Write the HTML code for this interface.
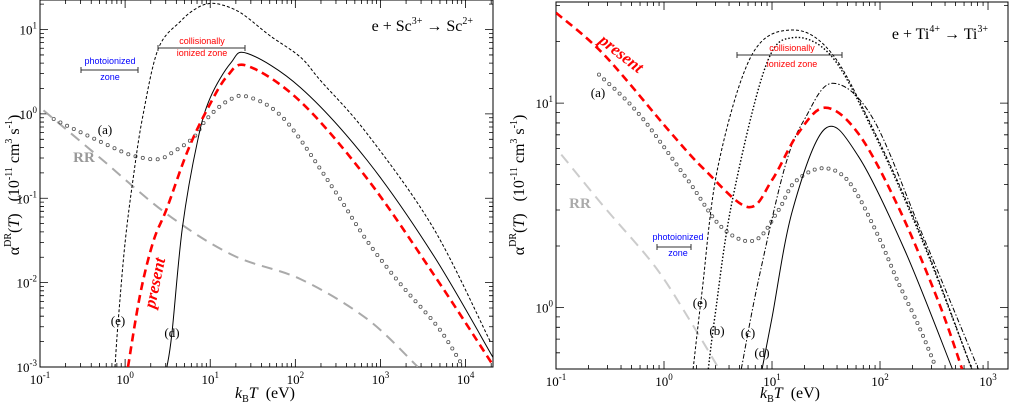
<!DOCTYPE html>
<html><head><meta charset="utf-8"><style>
body{margin:0;background:#fff;}
svg{display:block;font-family:"Liberation Serif",serif;}
</style></head><body>
<svg id="fig" width="1009" height="404" viewBox="0 0 1009 404" xmlns="http://www.w3.org/2000/svg"></svg>
<script>
// ---------- Data: left panel (e + Sc3+ -> Sc2+), kT in eV, alpha in 1e-11 cm^3/s ----------
const L_e_kT   = [0.76,0.83,1.0,1.24,1.6,2.45,4.5,7,10,14,20,27.5,50,115,200,700,4200,19500];
const L_e_val  = [0.001,0.0035,0.03,0.17,0.9,5.9,12.6,18,20.4,19.5,17,13.8,8.5,4.7,2.45,0.58,0.044,0.002];
const L_d_kT   = [3.1,3.55,4.7,7.1,10,17.4,27.5,115,700,4200,21000];
const L_d_val  = [0.001,0.0025,0.044,0.48,1.55,4.0,5.2,2.05,0.28,0.021,0.0013];
const L_p_kT   = [1.08,1.5,2.15,3.1,5.4,9.1,15.8,27.5,115,700,4200,21000];
const L_p_val  = [0.001,0.0072,0.031,0.076,0.36,1.1,2.8,3.7,1.4,0.17,0.0126,0.00105];
const L_a_kT   = [0.145,0.21,0.72,1.23,2.4,3.6,6.3,9.1,15.8,27.5,74,280,700,1740,4700,8700];
const L_a_val  = [0.87,0.72,0.4,0.32,0.29,0.35,0.52,0.87,1.41,1.6,0.87,0.13,0.031,0.0095,0.003,0.00115];
const L_rr_kT  = [0.11,0.51,3.1,18.6,115,700,2750];
const L_rr_val = [1.1,0.3,0.065,0.021,0.011,0.0037,0.001];
// ---------- Data: right panel (e + Ti4+ -> Ti3+) ----------
const R_p_kT   = [0.1,0.28,1.17,2.4,6.0,10,17.4,31,63,148,347,575];
const R_p_val  = [27.7,17.2,7.1,4.7,3.1,4.2,7.1,9.5,7.1,3.1,1.07,0.5];
const R_a_kT   = [0.25,0.58,1.66,3.47,6.9,11.5,16.2,28.8,50,89,148,224,324];
const R_a_val  = [13.8,8.9,4.2,2.45,2.13,3.0,4.1,4.8,4.2,2.45,1.32,0.83,0.52];
const R_d_kT   = [8.1,10,15.5,31,63,170,468];
const R_d_val  = [0.5,0.89,3.0,7.5,5.5,1.9,0.5];
const R_c_kT   = [5.2,7.4,13.2,20.4,36.3,85,245,813];
const R_c_val  = [0.5,1.32,4.9,8.5,12.5,8.5,2.3,0.5];
const R_e_kT   = [1.86,2.24,3.16,6.5,15.5,35.5,85,245,708];
const R_e_val  = [0.5,1.17,4.9,17.2,22.8,17.6,7.6,2.2,0.5];
const R_b_kT   = [2.57,2.95,4.27,8.7,15.5,35.5,85,245,708];
const R_b_val  = [0.5,0.89,3.3,15.1,20.9,17.0,7.4,2.14,0.5];
const R_rr_kT  = [0.112,0.28,0.83,1.82,3.16];
const R_rr_val = [5.6,3.1,1.58,0.83,0.51];

const NS="http://www.w3.org/2000/svg";
const svg=document.getElementById('fig');
function mk(tag,attrs,parent){const e=document.createElementNS(NS,tag);for(const k in attrs)e.setAttribute(k,attrs[k]);(parent||svg).appendChild(e);return e;}

const panels=[
 {id:'left',x0:40,x1:493,y0:0,y1:367,lx0:-1,lx1:Math.log10(2.1e4),ly0:-3,ly1:1.35,xt:[-1,0,1,2,3,4],yt:[-3,-2,-1,0,1]},
 {id:'right',x0:556,x1:1008,y0:2,y1:369,lx0:-1,lx1:3.185,ly0:Math.log10(0.5),ly1:1.495,xt:[-1,0,1,2,3],yt:[0,1]}
];
function sx(p,v){return p.x0+(Math.log10(v)-p.lx0)/(p.lx1-p.lx0)*(p.x1-p.x0);}
function sy(p,v){return p.y1-(Math.log10(v)-p.ly0)/(p.ly1-p.ly0)*(p.y1-p.y0);}
function smoothPath(pts){
 let d='M'+pts[0][0].toFixed(1)+','+pts[0][1].toFixed(1);
 for(let i=0;i<pts.length-1;i++){
  const p0=pts[i-1]||pts[i],p1=pts[i],p2=pts[i+1],p3=pts[i+2]||p2;
  const c1=[p1[0]+(p2[0]-p0[0])/6,p1[1]+(p2[1]-p0[1])/6],c2=[p2[0]-(p3[0]-p1[0])/6,p2[1]-(p3[1]-p1[1])/6];
  d+=' C'+c1.map(v=>v.toFixed(1))+' '+c2.map(v=>v.toFixed(1))+' '+p2[0].toFixed(1)+','+p2[1].toFixed(1);
 }
 return d;
}
function supLabel(x,y,exp,anchor,parent,name){
 const t=mk('text',{x:x,y:y,'font-size':13,'text-anchor':anchor,fill:'#000'},parent);
 
 
 t.appendChild(document.createTextNode('10'));
 const s=mk('tspan',{'font-size':9,dy:-6},t);s.textContent=exp;
 return t;
}
function axes(p){
 const g=mk('g',{});
 
 
 const fr=mk('rect',{x:p.x0,y:p.y0,width:p.x1-p.x0,height:p.y1-p.y0,fill:'none',stroke:'#000','stroke-width':1},g);
 
 
 let d='';
 for(let e=Math.floor(p.lx0);e<=Math.ceil(p.lx1);e++)for(let m=1;m<10;m++){
  const lv=e+Math.log10(m);if(lv<p.lx0-1e-9||lv>p.lx1+1e-9)continue;
  const x=p.x0+(lv-p.lx0)/(p.lx1-p.lx0)*(p.x1-p.x0),L=m==1?8:4;
  d+=`M${x},${p.y1}v${-L}M${x},${p.y0}v${L}`;
 }
 for(let e=Math.floor(p.ly0);e<=Math.ceil(p.ly1);e++)for(let m=1;m<10;m++){
  const lv=e+Math.log10(m);if(lv<p.ly0-1e-9||lv>p.ly1+1e-9)continue;
  const y=p.y1-(lv-p.ly0)/(p.ly1-p.ly0)*(p.y1-p.y0),L=m==1?8:4;
  d+=`M${p.x0},${y}h${L}M${p.x1},${y}h${-L}`;
 }
 const tk=mk('path',{d:d,stroke:'#000','stroke-width':0.8,fill:'none'},g);
 
 
 p.xt.forEach(e=>supLabel(sx(p,Math.pow(10,e)),p.y1+17,e,'middle',g,p.id+'-x-tick-label'));
 p.yt.forEach(e=>supLabel(p.x0-3,sy(p,Math.pow(10,e))+5,e,'end',g,p.id+'-y-tick-label'));
}
function curve(p,kT,val,style,name){
 const pts=kT.map((k,i)=>[sx(p,k),sy(p,val[i])]);
 const path=mk('path',Object.assign({d:smoothPath(pts),fill:'none','clip-path':`url(#clip-${p.id})`},style));
 
 
 return path;
}
function circles(p,kT,val,name,step){
 const path=curve(p,kT,val,{stroke:'none'},name+'-path');
 const g=mk('g',{fill:'none',stroke:'#555','stroke-width':0.8,'clip-path':`url(#clip-${p.id})`});
 
 
 const len=path.getTotalLength();
 for(let s=0;s<=len;s+=step){const q=path.getPointAtLength(s);
  const c=mk('circle',{cx:q.x.toFixed(1),cy:q.y.toFixed(1),r:1.6},g);
  
  }
}
const defs=mk('defs',{});
panels.forEach(p=>{const c=mk('clipPath',{id:'clip-'+p.id},defs);mk('rect',{x:p.x0,y:p.y0,width:p.x1-p.x0,height:p.y1-p.y0},c);});

const [PL,PR]=panels;
axes(PL);axes(PR);
const RED={stroke:'#f00','stroke-width':2.6,'stroke-dasharray':'8 5'};
const GRY={stroke:'#aaa','stroke-width':2,'stroke-dasharray':'11 7'};
const GRY2={stroke:'#ccc','stroke-width':2,'stroke-dasharray':'11 7'};
const DSH={stroke:'#000','stroke-width':1,'stroke-dasharray':'3 2'};
const DOT={stroke:'#000','stroke-width':1.4,'stroke-dasharray':'1.5 2'};
const DDT={stroke:'#000','stroke-width':1,'stroke-dasharray':'5 2 1.5 2'};
const SOL={stroke:'#000','stroke-width':1};
// left
curve(PL,L_rr_kT,L_rr_val,GRY,'left-rr-curve');
circles(PL,L_a_kT,L_a_val,'left-curve-a',7.5);
curve(PL,L_e_kT,L_e_val,DSH,'left-curve-e');
curve(PL,L_d_kT,L_d_val,SOL,'left-curve-d');
curve(PL,L_p_kT,L_p_val,RED,'left-present-curve');
// right
curve(PR,R_rr_kT,R_rr_val,GRY2,'right-rr-curve');
circles(PR,R_a_kT,R_a_val,'right-curve-a',7);
curve(PR,R_e_kT,R_e_val,DSH,'right-curve-e');
curve(PR,R_b_kT,R_b_val,DOT,'right-curve-b');
curve(PR,R_c_kT,R_c_val,DDT,'right-curve-c');
curve(PR,R_d_kT,R_d_val,SOL,'right-curve-d');
curve(PR,R_p_kT,R_p_val,RED,'right-present-curve');

function txt(x,y,s,attrs,name){const t=mk('text',Object.assign({x:x,y:y},attrs));t.textContent=s;
 return t;}
function bar(x0,x1,y,name){const p=mk('path',{d:`M${x0},${y-3}v6M${x0},${y}H${x1}M${x1},${y-3}v6`,stroke:'#333','stroke-width':1,fill:'none'});
 }
const SANS={'font-family':'Liberation Sans,sans-serif','font-size':9,'text-anchor':'middle'};
// left annotations
bar(81,138,70,'left-photoionized-bar');
txt(110,64,'photoionized',Object.assign({fill:'#00f'},SANS),'left-photoionized-label');
txt(110,80,'zone',Object.assign({fill:'#00f'},SANS),'left-photoionized-label-2');
bar(158,245,48,'left-collisional-bar');
txt(202,44,'collisionally',Object.assign({fill:'#f00'},SANS),'left-collisional-label');
txt(202,56,'ionized zone',Object.assign({fill:'#f00'},SANS),'left-collisional-label-2');
// right annotations
bar(657,691,247,'right-photoionized-bar');
txt(678,240,'photoionized',Object.assign({fill:'#00f'},SANS),'right-photoionized-label');
txt(678,256,'zone',Object.assign({fill:'#00f'},SANS),'right-photoionized-label-2');
bar(737,842,55,'right-collisional-bar');
txt(792,51,'collisionally',Object.assign({fill:'#f00'},SANS),'right-collisional-label');
txt(792,67,'ionized zone',Object.assign({fill:'#f00'},SANS),'right-collisional-label-2');
const LB={'font-size':13,fill:'#000','text-anchor':'middle'};
txt(105,134,'(a)',LB,'left-label-a');txt(118,325,'(e)',LB,'left-label-e');txt(172,337,'(d)',LB,'left-label-d');
txt(598,97,'(a)',LB,'right-label-a');txt(700,307,'(e)',LB,'right-label-e');txt(717,335,'(b)',LB,'right-label-b');
txt(748,337,'(c)',LB,'right-label-c');txt(762,357,'(d)',LB,'right-label-d');
txt(84,162,'RR',{'font-size':15,'font-weight':'bold',fill:'#999','text-anchor':'middle'},'left-rr-label');
txt(580,208,'RR',{'font-size':15,'font-weight':'bold',fill:'#aaa','text-anchor':'middle'},'right-rr-label');
const pres={'font-size':17,'font-weight':'bold','font-style':'italic',fill:'#f00','text-anchor':'middle'};
txt(0,0,'present',Object.assign({transform:'translate(160,284) rotate(-78)'},pres),'left-present-label');
txt(0,0,'present',Object.assign({transform:'translate(618,58) rotate(38)'},pres),'right-present-label');
// titles
function title(x,y,a,as,b,bs,name){const t=mk('text',{x:x,y:y,'font-size':16,'text-anchor':'end',fill:'#000'});
 
 t.appendChild(document.createTextNode(a));let s=mk('tspan',{'font-size':10,dy:-7},t);s.textContent=as;
 s=mk('tspan',{dy:7},t);s.textContent=' \u2192 '+b;s=mk('tspan',{'font-size':10,dy:-7},t);s.textContent=bs;}
title(473,31,'e + Sc','3+','Sc','2+','left-title');
title(988,39,'e + Ti','4+','Ti','3+','right-title');
// axis titles
function xtitle(cx,name){const t=mk('text',{x:cx,y:398,'font-size':16,'text-anchor':'middle'});
 
 let s=mk('tspan',{'font-style':'italic'},t);s.textContent='k';s=mk('tspan',{'font-size':10,dy:4},t);s.textContent='B';
 s=mk('tspan',{'font-style':'italic',dy:-4},t);s.textContent='T';s=mk('tspan',{},t);s.textContent='\u00a0\u00a0(eV)';}
xtitle(265,'left-x-axis-title');xtitle(790,'right-x-axis-title');
function ytitle(x,cy,name){const t=mk('text',{x:0,y:0,'font-size':16,'text-anchor':'middle',transform:`translate(${x},${cy}) rotate(-90)`});
 
 let s=mk('tspan',{},t);s.textContent='\u03b1';s=mk('tspan',{'font-size':10,dy:-8},t);s.textContent='DR';
 s=mk('tspan',{dy:8},t);s.textContent='(';s=mk('tspan',{'font-style':'italic'},t);s.textContent='T';
 s=mk('tspan',{},t);s.textContent=')\u00a0\u00a0\u00a0(10';s=mk('tspan',{'font-size':10,dy:-7},t);s.textContent='-11';
 s=mk('tspan',{dy:7},t);s.textContent=' cm';s=mk('tspan',{'font-size':10,dy:-7},t);s.textContent='3';
 s=mk('tspan',{dy:7},t);s.textContent=' s';s=mk('tspan',{'font-size':10,dy:-7},t);s.textContent='-1';
 s=mk('tspan',{dy:7},t);s.textContent=')';}
ytitle(19,185,'left-y-axis-title');ytitle(524,185,'right-y-axis-title');
</script>
</body></html>
